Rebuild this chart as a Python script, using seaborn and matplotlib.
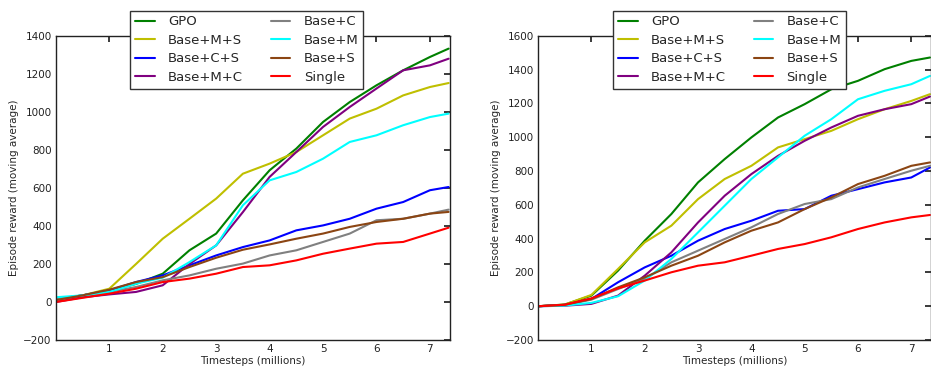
import numpy as np
import pandas as pd
import matplotlib
matplotlib.use("Agg")
import matplotlib.pyplot as plt
import seaborn as sns

# ── data ─────────────────────────────────────────────────────────────────────
steps = [0, 0.5, 1, 1.5, 2, 2.5, 3, 3.5, 4, 4.5, 5, 5.5, 6, 6.5, 7, 7.35]
methods = ["GPO", "Base+M+S", "Base+C+S", "Base+M+C",
           "Base+C", "Base+M", "Base+S", "Single"]

left_gpo  = [15, 35, 60, 95, 149, 272, 360, 535, 693, 807, 947, 1052, 1140, 1219, 1289, 1333]
left_ms   = [15, 35, 70, 200, 333, 438, 544, 675, 728, 789, 877, 965, 1017, 1087, 1131, 1152]
left_cs   = [15, 35, 61, 105, 140, 193, 245, 289, 324, 377, 403, 438, 491, 526, 588, 605]
left_mc   = [0, 25, 40, 53, 88, 200, 298, 473, 658, 789, 921, 1026, 1123, 1219, 1245, 1280]
left_c    = [15, 35, 53, 79, 114, 140, 175, 202, 245, 272, 316, 360, 430, 438, 465, 486]
left_m    = [25, 35, 53, 96, 128, 210, 298, 509, 640, 684, 754, 842, 877, 930, 973, 991]
left_s    = [10, 35, 65, 105, 131, 184, 233, 275, 303, 333, 360, 395, 421, 438, 465, 474]
left_one  = [0, 22, 44, 70, 105, 123, 149, 184, 193, 219, 254, 281, 307, 316, 360, 391]

right_gpo = [0, 10, 63, 211, 388, 546, 733, 871, 999, 1117, 1196, 1284, 1334, 1403, 1452, 1472]
right_ms  = [0, 10, 67, 221, 378, 477, 634, 753, 831, 940, 989, 1038, 1107, 1166, 1215, 1255]
right_cs  = [0, 8, 43, 142, 230, 299, 388, 457, 506, 565, 575, 654, 693, 733, 762, 821]
right_mc  = [0, 3, 14, 63, 181, 319, 496, 654, 782, 890, 979, 1058, 1127, 1166, 1196, 1241]
right_c   = [0, 7, 39, 102, 161, 260, 329, 398, 467, 546, 605, 634, 703, 753, 802, 831]
right_m   = [0, 4, 20, 59, 152, 280, 437, 595, 753, 881, 1009, 1107, 1225, 1275, 1314, 1363]
right_s   = [0, 8, 43, 112, 171, 240, 299, 378, 447, 496, 575, 644, 723, 772, 831, 851]
right_one = [0, 9, 47, 106, 152, 201, 240, 260, 299, 339, 368, 408, 457, 496, 526, 540]

left_series  = [left_gpo, left_ms, left_cs, left_mc, left_c, left_m, left_s, left_one]
right_series = [right_gpo, right_ms, right_cs, right_mc, right_c, right_m, right_s, right_one]

PALETTE = {"GPO": "#008000", "Base+M+S": "#bfbf00", "Base+C+S": "#0000ff",
           "Base+M+C": "#800080", "Base+C": "#808080", "Base+M": "#00ffff",
           "Base+S": "#8b4513", "Single": "#ff0000"}


def to_long(series):
    rows = []
    for name, vals in zip(methods, series):
        for x, y in zip(steps, vals):
            rows.append((name, x, y))
    return pd.DataFrame(rows, columns=["method", "steps", "reward"])


# ── style ────────────────────────────────────────────────────────────────────
sns.set_theme(style="white")
plt.rcParams.update({
    "font.family": ["DejaVu Sans"],
    "axes.edgecolor": "#222222", "axes.linewidth": 1.0,
    "xtick.direction": "in", "ytick.direction": "in",
    "xtick.top": True, "ytick.right": True,
    "xtick.major.size": 4, "ytick.major.size": 4,
    "xtick.labelsize": 7.5, "ytick.labelsize": 7.5,
    "axes.labelsize": 7.5,
})

fig = plt.figure(figsize=(9.31, 3.70), dpi=100)
ax_l = fig.add_axes([0.060, 0.081, 0.423, 0.822])
ax_r = fig.add_axes([0.578, 0.081, 0.422, 0.822])

panels = [(ax_l, left_series, (-200, 1400), 0.265),
          (ax_r, right_series, (-200, 1600), 0.7836)]

for ax, series, ylim, leg_x in panels:
    sns.lineplot(data=to_long(series), x="steps", y="reward", hue="method",
                 hue_order=methods, palette=PALETTE, linewidth=1.5,
                 legend=False, ax=ax)
    ax.set_xlim(0, 7.37)
    ax.set_ylim(*ylim)
    ax.set_xticks(range(1, 8))
    ax.set_yticks(range(ylim[0], ylim[1] + 1, 200))
    ax.set_xlabel("Timesteps (millions)", labelpad=1)
    ax.set_ylabel("Episode reward (moving average)", labelpad=3)
    ax.tick_params(colors="#222222", pad=3)
    leg = ax.legend(ax.lines, methods, ncol=2, loc="upper center",
                    bbox_to_anchor=(leg_x, 0.989), bbox_transform=fig.transFigure,
                    fontsize=9.5, frameon=True, fancybox=False, framealpha=1,
                    edgecolor="#333333", handlelength=1.5, handletextpad=1.0,
                    columnspacing=2.1, labelspacing=0.42, borderpad=0.35)
    leg.get_frame().set_linewidth(1.0)
    leg.set_zorder(10)

fig.savefig("out.png", dpi=100)
